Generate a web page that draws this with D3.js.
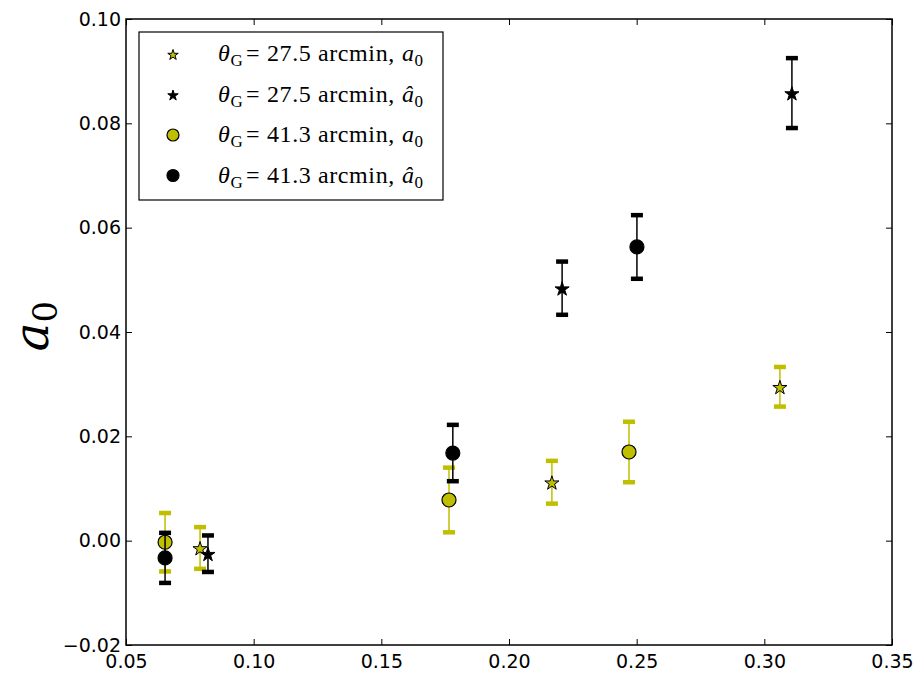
<!DOCTYPE html>
<html>
<head>
<meta charset="utf-8">
<script src="https://cdn.jsdelivr.net/npm/d3@7"></script>
<style>
  html, body { margin: 0; padding: 0; background: #fff; }
  svg { display: block; }
</style>
</head>
<body>
<svg id="chart" width="919" height="674"></svg>
<script>
// Smoothing scale vs. a0 estimates for two Gaussian filter widths
const xTicks = [0.05, 0.10, 0.15, 0.20, 0.25, 0.30, 0.35];
const yTicks = [-0.02, 0.00, 0.02, 0.04, 0.06, 0.08, 0.10];

// theta_G = 27.5 arcmin, a0
const star27A0X   = [0.0790, 0.2168, 0.3061];
const star27A0Y   = [-0.0014, 0.0112, 0.0295];
const star27A0Err = [0.0040, 0.0041, 0.0038];

// theta_G = 27.5 arcmin, a0-hat
const star27HatX   = [0.0821, 0.2208, 0.3108];
const star27HatY   = [-0.0025, 0.0484, 0.0858];
const star27HatErr = [0.0035, 0.0051, 0.0067];

// theta_G = 41.3 arcmin, a0
const circ41A0X   = [0.0653, 0.1765, 0.2470];
const circ41A0Y   = [-0.0003, 0.0078, 0.0170];
const circ41A0Err = [0.0056, 0.0062, 0.0058];

// theta_G = 41.3 arcmin, a0-hat
const circ41HatX   = [0.0653, 0.1780, 0.2501];
const circ41HatY   = [-0.0033, 0.0168, 0.0563];
const circ41HatErr = [0.0048, 0.0054, 0.0061];

const YELLOW = "#bfbf00";
const BLACK = "#000000";

const series = [
  { x: star27A0X,  y: star27A0Y,  e: star27A0Err,  color: YELLOW, marker: "star",   theta: "27.5", hat: false },
  { x: star27HatX, y: star27HatY, e: star27HatErr, color: BLACK,  marker: "star",   theta: "27.5", hat: true },
  { x: circ41A0X,  y: circ41A0Y,  e: circ41A0Err,  color: YELLOW, marker: "circle", theta: "41.3", hat: false },
  { x: circ41HatX, y: circ41HatY, e: circ41HatErr, color: BLACK,  marker: "circle", theta: "41.3", hat: true }
];

const svg = d3.select("#chart");
const plotLeft = 126, plotRight = 892, plotTop = 19, plotBottom = 645;

const x = d3.scaleLinear().domain([0.05, 0.35]).range([plotLeft, plotRight]);
const y = d3.scaleLinear().domain([-0.02, 0.10]).range([plotBottom, plotTop]);

const tickFont = "'DejaVu Sans', sans-serif";
const fmt = d3.format(".2f");

// Axes with inward ticks on all four sides
const gx = svg.append("g").attr("transform", `translate(0,${plotBottom})`)
  .call(d3.axisBottom(x).tickValues(xTicks).tickFormat(fmt).tickSizeInner(-6).tickSizeOuter(0).tickPadding(10));
const gy = svg.append("g").attr("transform", `translate(${plotLeft},0)`)
  .call(d3.axisLeft(y).tickValues(yTicks).tickFormat(fmt).tickSizeInner(-6).tickSizeOuter(0).tickPadding(5));
const gt = svg.append("g").attr("transform", `translate(0,${plotTop})`)
  .call(d3.axisTop(x).tickValues(xTicks).tickFormat("").tickSizeInner(-6).tickSizeOuter(0));
const gr = svg.append("g").attr("transform", `translate(${plotRight},0)`)
  .call(d3.axisRight(y).tickValues(yTicks).tickFormat("").tickSizeInner(-6).tickSizeOuter(0));

[gx, gy, gt, gr].forEach(g => {
  g.select(".domain").remove();
  g.selectAll(".tick line").attr("stroke", "#000").attr("stroke-width", 1);
  g.selectAll(".tick text").attr("font-family", tickFont).attr("font-size", 19).attr("fill", "#000");
});

// Plot frame
svg.append("rect")
  .attr("x", plotLeft).attr("y", plotTop)
  .attr("width", plotRight - plotLeft).attr("height", plotBottom - plotTop)
  .attr("fill", "none").attr("stroke", "#000").attr("stroke-width", 1.5);

// y-axis label: a_0
const yl = svg.append("text")
  .attr("transform", `translate(48,${(plotTop + plotBottom) / 2 - 6}) rotate(-90)`)
  .attr("text-anchor", "middle")
  .attr("font-family", "'DejaVu Serif', serif")
  .attr("font-size", 48);
yl.append("tspan").attr("font-style", "italic").text("a");
yl.append("tspan").attr("font-size", 34).attr("dy", 9).text("0");

const starSize = 62;
const circleR = 7;

const plot = svg.append("g");

function drawMarker(g, s, cx, cy) {
  if (s.marker === "star") {
    g.append("path")
      .attr("d", d3.symbol().type(d3.symbolStar).size(starSize)())
      .attr("transform", `translate(${cx},${cy + 1})`)
      .attr("fill", s.color).attr("stroke", "#000").attr("stroke-width", 1);
  } else {
    g.append("circle")
      .attr("cx", cx).attr("cy", cy).attr("r", circleR)
      .attr("fill", s.color).attr("stroke", "#000").attr("stroke-width", 1.2);
  }
}

series.forEach(s => {
  const g = plot.append("g");
  s.x.forEach((xv, i) => {
    const cx = x(xv);
    const y0 = y(s.y[i] - s.e[i]);
    const y1 = y(s.y[i] + s.e[i]);
    g.append("line")
      .attr("x1", cx).attr("x2", cx).attr("y1", y0).attr("y2", y1)
      .attr("stroke", s.color).attr("stroke-width", 1.5);
    [y0, y1].forEach(cy => {
      g.append("line")
        .attr("x1", cx - 6).attr("x2", cx + 6).attr("y1", cy).attr("y2", cy)
        .attr("stroke", s.color).attr("stroke-width", 4.5);
    });
  });
  s.x.forEach((xv, i) => drawMarker(g, s, x(xv), y(s.y[i])));
});

// Legend
const legend = svg.append("g");
legend.append("rect")
  .attr("x", 139).attr("y", 32).attr("width", 304).attr("height", 168)
  .attr("fill", "#fff").attr("stroke", "#000").attr("stroke-width", 1.2);

const legendFont = "'Liberation Serif', 'DejaVu Serif', serif";
series.forEach((s, i) => {
  const cy = 54 + i * 40.5;
  if (s.marker === "star") {
    legend.append("path")
      .attr("d", d3.symbol().type(d3.symbolStar).size(34)())
      .attr("transform", `translate(173,${cy + 1})`)
      .attr("fill", s.color).attr("stroke", "#000").attr("stroke-width", 1);
  } else {
    legend.append("circle")
      .attr("cx", 173).attr("cy", cy).attr("r", 6)
      .attr("fill", s.color).attr("stroke", "#000").attr("stroke-width", 1.2);
  }
  const t = legend.append("text")
    .attr("y", cy + 7)
    .attr("font-family", legendFont).attr("font-size", 24)
    .attr("letter-spacing", 0.6);
  t.append("tspan").attr("x", 218).attr("font-style", "italic").text("θ");
  t.append("tspan").attr("font-size", 17).attr("dy", 5).text("G");
  t.append("tspan").attr("x", 246).attr("dy", -5).text("=");
  t.append("tspan").attr("x", 267).text(s.theta + " arcmin,");
  t.append("tspan").attr("x", 402).attr("font-style", "italic").text(s.hat ? "â" : "a");
  t.append("tspan").attr("font-size", 17).attr("dy", 5).text("0");
});
</script>
</body>
</html>
